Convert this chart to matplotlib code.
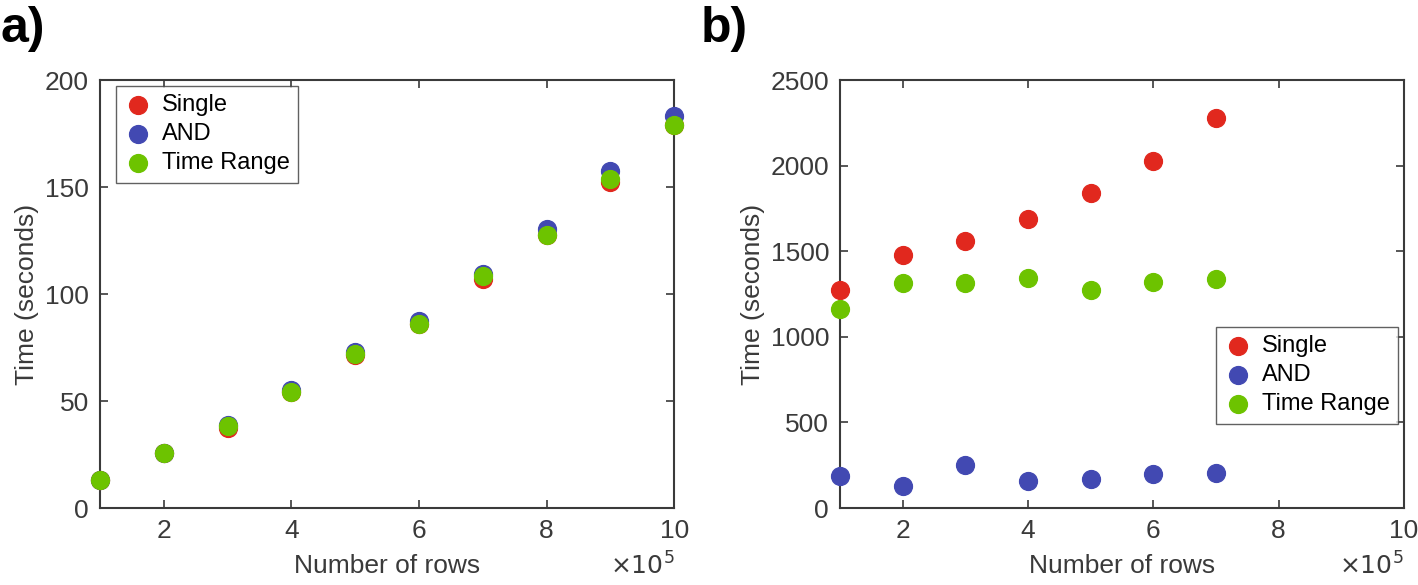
"""Query timing vs. number of rows — two panels, MATLAB-style scatter."""
import matplotlib
matplotlib.use("Agg")
import matplotlib.pyplot as plt

plt.rcParams["font.family"] = ["Liberation Sans", "DejaVu Sans"]

# panel a
ROWS_A = [1, 2, 3, 4, 5, 6, 7, 8, 9, 10]
SINGLE_A = [13.0, 25.7, 37.2, 54.0, 71.3, 86.0, 107.0, 127.6, 152.2, 179.0]
AND_A = [13.0, 25.9, 38.8, 55.2, 73.0, 87.2, 109.5, 130.3, 157.5, 183.0]
RANGE_A = [13.0, 25.7, 38.2, 54.2, 72.1, 86.0, 108.3, 127.8, 153.8, 179.0]

# panel b
ROWS_B = [1, 2, 3, 4, 5, 6, 7]
SINGLE_B = [1272, 1478, 1559, 1691, 1843, 2026, 2276]
AND_B = [189, 126, 250, 157, 172, 196, 202]
RANGE_B = [1163, 1315, 1315, 1343, 1276, 1322, 1337]

LABELS = ["Single", "AND", "Time Range"]
COLORS = ["#E1281E", "#4249B2", "#6DC300"]
AX_COL = "#3a3a3a"


def style(ax, ylim, yticks):
    ax.set_xlim(1, 10)
    ax.set_ylim(*ylim)
    ax.set_xticks([2, 4, 6, 8, 10])
    ax.set_yticks(yticks)
    ax.tick_params(direction="in", top=True, right=True, length=6, width=1.2,
                   colors=AX_COL, labelsize=19, pad=8)
    for s in ax.spines.values():
        s.set_color(AX_COL)
        s.set_linewidth(1.5)
    ax.set_xlabel("Number of rows", fontsize=19, color=AX_COL, labelpad=8)
    ax.set_ylabel("Time (seconds)", fontsize=19, color=AX_COL, labelpad=4)
    ax.text(1.0, -0.135, r"$\times10^5$", transform=ax.transAxes,
            ha="right", va="center", fontsize=18, color=AX_COL)


fig = plt.figure(figsize=(14.18, 5.85), dpi=100)

axa = fig.add_axes([0.0705, 0.1316, 0.405, 0.7316])
for ys, c, lab in zip([SINGLE_A, AND_A, RANGE_A], COLORS, LABELS):
    axa.scatter(ROWS_A, ys, s=165, color=c, label=lab, clip_on=False, zorder=3)
style(axa, (0, 200), [0, 50, 100, 150, 200])
axa.legend(loc="upper left", bbox_to_anchor=(0.0818, 0.853),
           bbox_transform=fig.transFigure, fontsize=17, frameon=True,
           fancybox=False, edgecolor=AX_COL, handletextpad=0.4,
           borderpad=0.35, labelspacing=0.3, handlelength=1.2,
           borderaxespad=0)

axb = fig.add_axes([0.5925, 0.1316, 0.3975, 0.7316])
for ys, c, lab in zip([SINGLE_B, AND_B, RANGE_B], COLORS, LABELS):
    axb.scatter(ROWS_B, ys, s=165, color=c, label=lab, clip_on=False, zorder=3)
style(axb, (0, 2500), [0, 500, 1000, 1500, 2000, 2500])
axb.legend(loc="upper left", bbox_to_anchor=(0.8575, 0.441),
           bbox_transform=fig.transFigure, fontsize=17, frameon=True,
           fancybox=False, edgecolor=AX_COL, handletextpad=0.4,
           borderpad=0.35, labelspacing=0.3, handlelength=1.2,
           borderaxespad=0)

fig.text(0.0, 0.99, "a)", fontsize=36, fontweight="bold", va="top", ha="left")
fig.text(0.494, 0.99, "b)", fontsize=36, fontweight="bold", va="top", ha="left")

fig.savefig("out.png", dpi=100)
